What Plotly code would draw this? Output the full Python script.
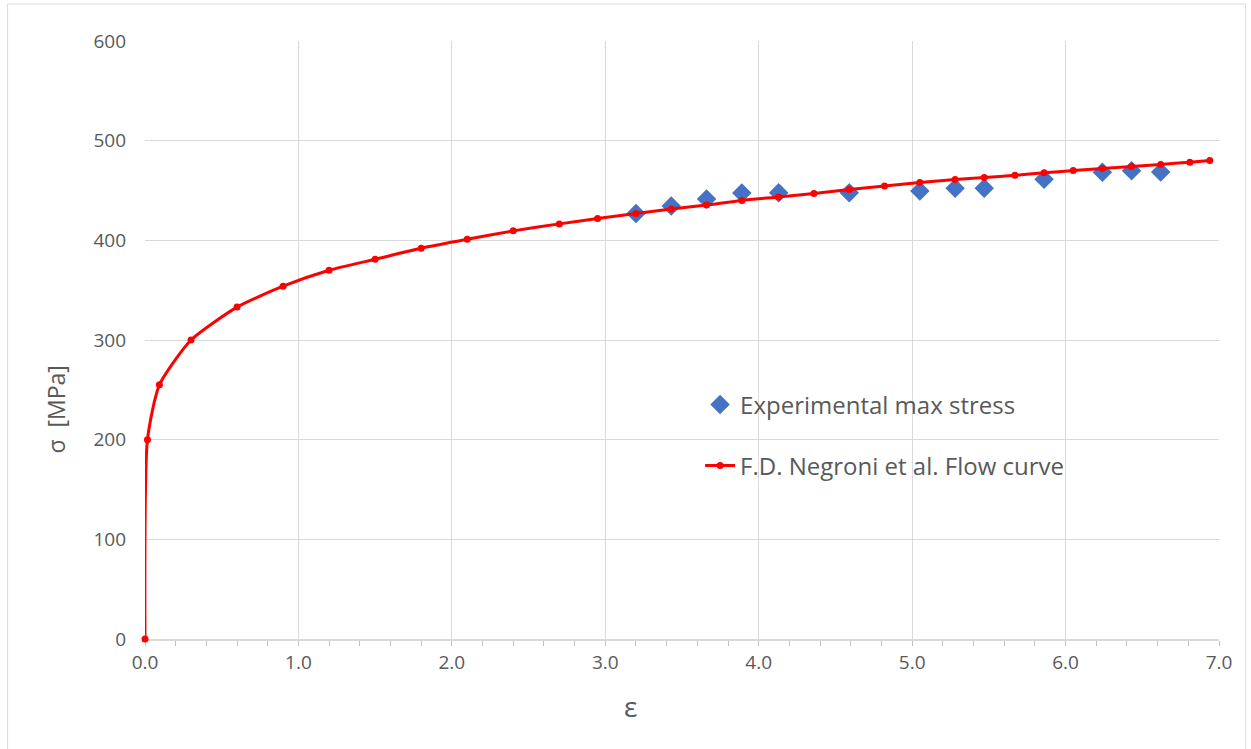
import plotly.graph_objects as go

# ---- data ----
flow_strain = [0.0, 0.016, 0.094, 0.30, 0.60, 0.90, 1.20, 1.50, 1.80, 2.10, 2.40, 2.70, 2.95,
               3.20, 3.43, 3.66, 3.89, 4.13, 4.36, 4.59, 4.82, 5.05, 5.28, 5.47, 5.67, 5.86,
               6.05, 6.24, 6.43, 6.62, 6.81, 6.94]
flow_stress = [0, 200, 255, 300, 333, 354, 370, 381, 392, 401, 409.5, 416.5, 422,
               427, 431.5, 435.5, 440, 443.5, 447, 451, 454.5, 458, 461, 463, 465.2, 467.8,
               470, 472, 474, 476.2, 478.3, 480]

exp_strain = [3.20, 3.43, 3.66, 3.89, 4.13, 4.59, 5.05, 5.28, 5.47, 5.86, 6.24, 6.43, 6.62]
exp_stress = [427, 434.5, 441.5, 447.5, 447.8, 447.8, 449.5, 452.2, 452.2, 461.2, 468.2, 469.9, 468.5]

x_ticks = [0, 1, 2, 3, 4, 5, 6, 7]
y_ticks = [0, 100, 200, 300, 400, 500, 600]

W, H = 1251, 749
L, R, T, B = 144.5, 1219.3, 41, 639  # plot area in pixels


def px(xp):
    return (xp - L) / (R - L)


def py(yp):
    return (B - yp) / (B - T)


FONT = "Open Sans"
GRAY = "#595959"
GRID = "#d9d9d9"

fig = go.Figure()
fig.add_trace(go.Scatter(
    x=exp_strain, y=exp_stress, mode="markers", name="Experimental max stress",
    marker=dict(symbol="diamond", size=15, color="#4472c4"),
    legend="legend", showlegend=True, cliponaxis=False,
))
fig.add_trace(go.Scatter(
    x=flow_strain, y=flow_stress, mode="lines+markers", name="F.D. Negroni et al. Flow curve",
    line=dict(color="#ff0000", width=3, shape="spline", smoothing=0.6),
    marker=dict(symbol="circle", size=7, color="#ff0000"),
    legend="legend2", showlegend=True, cliponaxis=False,
))

LEG_X = 700
fig.update_layout(
    width=W, height=H,
    margin=dict(l=L, r=W - R, t=T, b=H - B, pad=0),
    paper_bgcolor="white", plot_bgcolor="white",
    font=dict(family=FONT, color=GRAY, size=19),
    showlegend=True,
    legend=dict(x=px(LEG_X), y=py(405), xanchor="left", yanchor="middle", itemwidth=30,
                bgcolor="rgba(0,0,0,0)", font=dict(size=24, color=GRAY, family=FONT)),
    legend2=dict(x=px(LEG_X), y=py(466), xanchor="left", yanchor="middle", itemwidth=30,
                 bgcolor="rgba(0,0,0,0)", font=dict(size=24, color=GRAY, family=FONT)),
    xaxis=dict(
        range=[0, 7], tickvals=x_ticks, ticktext=[f"{v:.1f}" for v in x_ticks],
        showgrid=True, gridcolor=GRID, gridwidth=1,
        showline=True, linecolor=GRID, linewidth=1.5,
        ticks="outside", ticklen=5, tickcolor="#bfbfbf",
        minor=dict(dtick=0.2, ticks="outside", ticklen=5, tickcolor="#bfbfbf", showgrid=False),
        zeroline=False, tickfont=dict(size=19, color=GRAY), layer="below traces",
    ),
    yaxis=dict(
        range=[0, 600], tickvals=y_ticks,
        showgrid=True, gridcolor=GRID, gridwidth=1,
        showline=False, zeroline=False, ticks="", ticklabelstandoff=18,
        tickfont=dict(size=19, color=GRAY), layer="below traces",
    ),
    annotations=[
        dict(text="ε", x=px(630), y=py(706), xref="paper", yref="paper",
             showarrow=False, font=dict(size=28, color=GRAY, family=FONT),
             xanchor="center", yanchor="middle"),
        dict(text="σ  [MPa]", x=px(55), y=py(410), xref="paper", yref="paper",
             showarrow=False, textangle=-90, font=dict(size=23, color=GRAY, family=FONT),
             xanchor="center", yanchor="middle"),
    ],
    shapes=[
        dict(type="rect", xref="paper", yref="paper",
             x0=px(7), x1=px(1246), y0=py(770), y1=py(4),
             line=dict(color=GRID, width=1), layer="below"),
    ],
)

fig.write_html("out.html")
